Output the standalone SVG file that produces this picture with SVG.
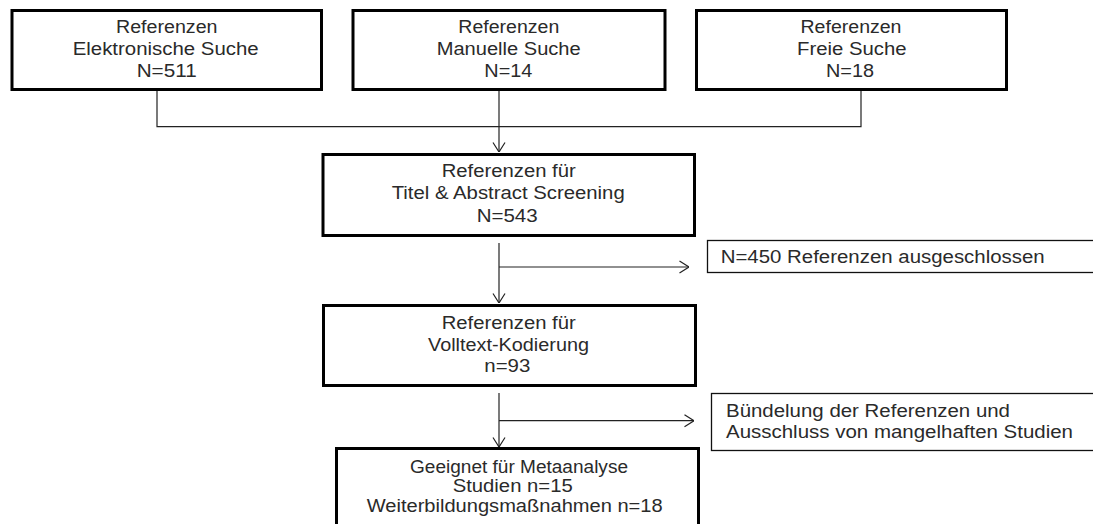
<svg xmlns="http://www.w3.org/2000/svg" width="1093" height="524" viewBox="0 0 1093 524">
<style>
  .box { fill: #ffffff; stroke: #000000; stroke-width: 3; }
  .thin { fill: #ffffff; stroke: #111111; stroke-width: 1.3; }
  .conn { fill: none; stroke: #222222; stroke-width: 1.2; }
  text { font-family: "Liberation Sans", Arial, sans-serif; font-size: 17.5px; fill: #2a2a2a; }
</style>
<defs>
  <marker id="arr" markerUnits="userSpaceOnUse" viewBox="0 0 10 14" refX="10" refY="7" markerWidth="10" markerHeight="14" orient="auto">
    <path d="M0.5,1 L10,7 L0.5,13" fill="none" stroke="#222222" stroke-width="1.2"/>
  </marker>
</defs>
<rect width="1093" height="524" fill="#ffffff"/>

<g id="connectors">
  <path class="conn" d="M157,91 V126.7 H861 V91"/>
  <path class="conn" d="M499,91 V152" marker-end="url(#arr)"/>
  <path class="conn" d="M499,243 V303" marker-end="url(#arr)"/>
  <path class="conn" d="M499,267 H689" marker-end="url(#arr)"/>
  <path class="conn" d="M499,393 V447" marker-end="url(#arr)"/>
  <path class="conn" d="M499,420.7 H694" marker-end="url(#arr)"/>
</g>

<g id="node-elektronisch">
  <rect class="box" x="12" y="10.5" width="309.5" height="79"/>
  <text x="116" y="33.3" textLength="101.5" lengthAdjust="spacingAndGlyphs">Referenzen</text>
  <text x="72.7" y="55.3" textLength="186" lengthAdjust="spacingAndGlyphs">Elektronische Suche</text>
  <text x="136.7" y="77.3" textLength="60" lengthAdjust="spacingAndGlyphs">N=511</text>
</g>

<g id="node-manuell">
  <rect class="box" x="353" y="10.5" width="312" height="79"/>
  <text x="458.3" y="33.3" textLength="101" lengthAdjust="spacingAndGlyphs">Referenzen</text>
  <text x="436.7" y="55.3" textLength="144" lengthAdjust="spacingAndGlyphs">Manuelle Suche</text>
  <text x="484.3" y="77.3" textLength="48" lengthAdjust="spacingAndGlyphs">N=14</text>
</g>

<g id="node-frei">
  <rect class="box" x="696.5" y="10.5" width="310" height="79"/>
  <text x="800.5" y="33.3" textLength="101" lengthAdjust="spacingAndGlyphs">Referenzen</text>
  <text x="797" y="55.3" textLength="109.5" lengthAdjust="spacingAndGlyphs">Freie Suche</text>
  <text x="826" y="77.3" textLength="48" lengthAdjust="spacingAndGlyphs">N=18</text>
</g>

<g id="node-screening">
  <rect class="box" x="323" y="154.5" width="371.5" height="81"/>
  <text x="441.7" y="176.7" textLength="134" lengthAdjust="spacingAndGlyphs">Referenzen  für</text>
  <text x="391.7" y="199" textLength="233" lengthAdjust="spacingAndGlyphs">Titel &amp; Abstract Screening</text>
  <text x="476.7" y="221.5" textLength="61" lengthAdjust="spacingAndGlyphs">N=543</text>
</g>

<g id="node-ausgeschlossen">
  <rect class="thin" x="707.5" y="240.5" width="400" height="32"/>
  <text x="720.7" y="263" textLength="324" lengthAdjust="spacingAndGlyphs">N=450 Referenzen  ausgeschlossen</text>
</g>

<g id="node-volltext">
  <rect class="box" x="323.5" y="305.5" width="372" height="80"/>
  <text x="441.7" y="329" textLength="134" lengthAdjust="spacingAndGlyphs">Referenzen  für</text>
  <text x="428" y="350.7" textLength="161" lengthAdjust="spacingAndGlyphs">Volltext-Kodierung</text>
  <text x="484.3" y="371.7" textLength="46" lengthAdjust="spacingAndGlyphs">n=93</text>
</g>

<g id="node-buendelung">
  <rect class="thin" x="711.5" y="393.5" width="400" height="57"/>
  <text x="726" y="417" textLength="284" lengthAdjust="spacingAndGlyphs">Bündelung der Referenzen  und</text>
  <text x="726" y="438" textLength="347" lengthAdjust="spacingAndGlyphs">Ausschluss von mangelhaften  Studien</text>
</g>

<g id="node-metaanalyse">
  <rect class="box" x="336.5" y="448.5" width="362" height="100"/>
  <text x="410" y="472.7" textLength="218" lengthAdjust="spacingAndGlyphs">Geeignet für Metaanalyse</text>
  <text x="452.7" y="492.3" textLength="120" lengthAdjust="spacingAndGlyphs">Studien n=15</text>
  <text x="366.7" y="512" textLength="296" lengthAdjust="spacingAndGlyphs">Weiterbildungsmaßnahmen  n=18</text>
</g>
</svg>
